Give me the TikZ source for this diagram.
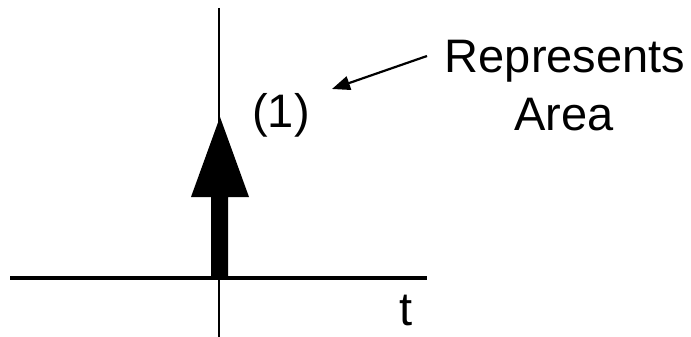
\documentclass[tikz,border=0pt]{standalone}
\usepackage{fontspec}
\setmainfont{Liberation Sans}
\usetikzlibrary{arrows.meta}
\begin{document}
\begin{tikzpicture}[x=1pt,y=-1pt,
  lbl/.style={font=\fontsize{47}{57}\selectfont, inner sep=0pt, anchor=base},
  axis/.style={draw=black, line width=#1},
  pointer/.style={draw=black, line width=2.2pt, -{Triangle[length=18pt,width=14pt]}}]
\useasboundingbox (0,0) rectangle (691,337);
% axes
\coordinate (vtop) at (219,8);
\coordinate (vbot) at (219,337);
\coordinate (hl) at (10,278);
\coordinate (hr) at (427,278);
\draw[axis=2.8pt] (vtop) -- (vbot);
\draw[axis=3.6pt] (hl) -- (hr);
% impulse arrow
\fill[black] (211,278) -- (228,278) -- (228,197) -- (249,197) -- (220,117) -- (191,197) -- (211,197) -- cycle;
% labels
\node[lbl] (one) at (281,127) {(1)};
\node[lbl] (rep) at (565,73) {Represents};
\node[lbl] (area) at (564,130) {Area};
\node[lbl] (t) at (406,325) {t};
% pointer
\coordinate (pstart) at (427,56);
\coordinate (pend) at (332,89);
\draw[pointer] (pstart) -- (pend);
\end{tikzpicture}
\end{document}
